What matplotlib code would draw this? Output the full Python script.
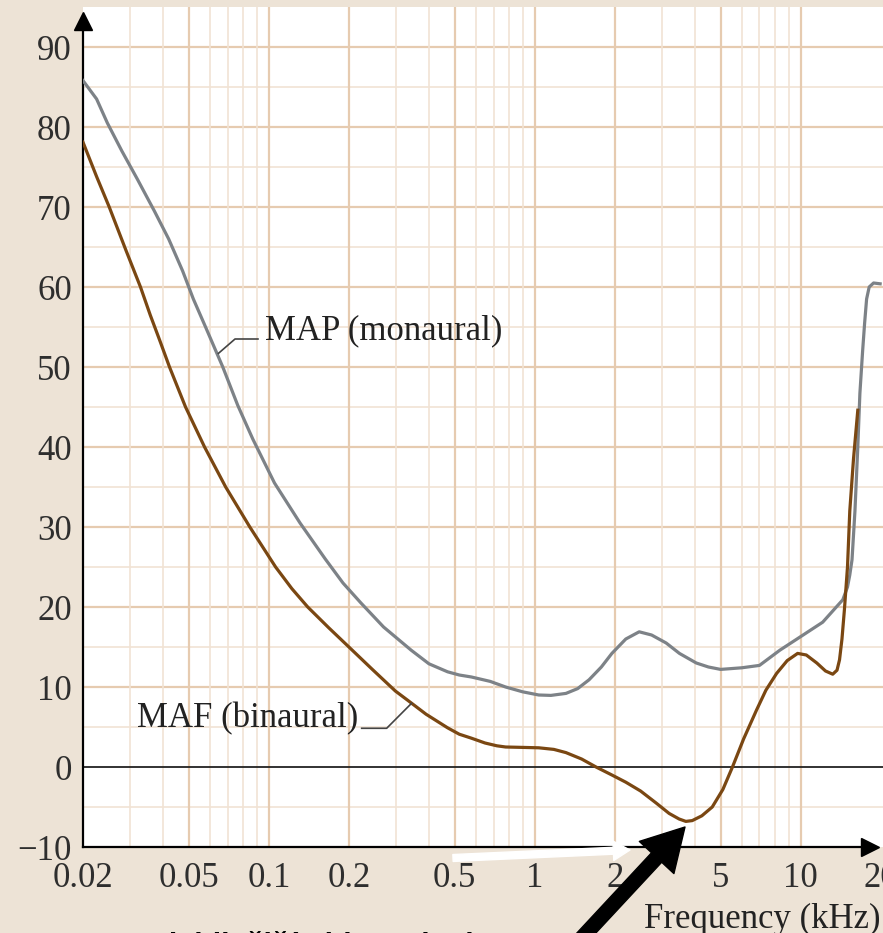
import matplotlib
matplotlib.use("Agg")
import matplotlib.pyplot as plt
from matplotlib.ticker import NullLocator

# values (frequency in kHz, level in dB)
map_freq = [0.02, 0.0225, 0.0247, 0.028, 0.032, 0.0371, 0.042, 0.0474, 0.052, 0.0578,
            0.0671, 0.0764, 0.087, 0.105, 0.131, 0.163, 0.19, 0.222, 0.27, 0.343,
            0.4, 0.47, 0.52, 0.578, 0.68, 0.777, 0.9, 1.035, 1.15, 1.31, 1.45, 1.6,
            1.78, 1.95, 2.2, 2.47, 2.75, 3.12, 3.5, 4.05, 4.5, 5.0, 6.0, 7.0, 8.35,
            10.0, 12.1, 14.4, 15.0, 15.3, 15.6, 16.0, 16.4, 16.7, 17.1, 17.4, 17.7,
            18.1, 18.8, 19.9]
map_level = [85.8, 83.5, 80.5, 77, 73.5, 69.5, 66, 62, 58.5, 55,
             50, 45.2, 41, 35.5, 30.5, 26, 23, 20.5, 17.5, 14.6,
             12.9, 11.9, 11.5, 11.25, 10.7, 10.0, 9.4, 9.0, 8.95, 9.2, 9.8, 10.9,
             12.5, 14.2, 16.0, 16.9, 16.5, 15.5, 14.2, 13.0, 12.5, 12.2, 12.4, 12.7, 14.6,
             16.3, 18.1, 20.9, 22.5, 24, 25.9, 32, 40, 46.7, 52, 55.5, 58.5,
             60, 60.5, 60.4]

maf_freq = [0.02, 0.0225, 0.0251, 0.029, 0.0329, 0.0358, 0.0388, 0.0423, 0.0486, 0.0573,
            0.0688, 0.0848, 0.106, 0.122, 0.140, 0.168, 0.2, 0.245, 0.299, 0.334,
            0.39, 0.47, 0.52, 0.578, 0.65, 0.72, 0.777, 0.9, 1.035, 1.18, 1.31, 1.5,
            1.70, 1.95, 2.20, 2.5, 2.86, 3.2, 3.49, 3.7, 3.91, 4.25, 4.65, 5.1, 5.54,
            6.1, 6.82, 7.4, 8.12, 8.9, 9.74, 10.5, 11.5, 12.4, 13.2, 13.7, 14.0, 14.3,
            14.6, 15.0, 15.3, 15.8, 16.4]
maf_level = [78.1, 73.8, 70, 64.6, 60, 56.5, 53.4, 50, 45, 40,
             35, 30, 25, 22.3, 20, 17.4, 15.0, 12.2, 9.5, 8.3,
             6.6, 4.9, 4.1, 3.6, 3.0, 2.65, 2.5, 2.45, 2.4, 2.2, 1.8, 1.0,
             0, -1.0, -1.9, -3.0, -4.5, -5.8, -6.5, -6.8, -6.7, -6.1, -5.0, -2.8, 0,
             3.5, 7.1, 9.6, 11.7, 13.3, 14.2, 14.0, 13.0, 12.0, 11.6, 12.1, 13.4, 16,
             19.6, 25, 32, 38.5, 44.6]

xtick_vals = [0.02, 0.05, 0.1, 0.2, 0.5, 1, 2, 5, 10, 20]
xtick_labels = ["0.02", "0.05", "0.1", "0.2", "0.5", "1", "2", "5", "10", "20"]
ytick_vals = list(range(-10, 91, 10))
ytick_labels = ["\u221210"] + [str(v) for v in ytick_vals[1:]]

major_v = [0.05, 0.1, 0.2, 0.5, 1, 2, 5, 10]
minor_v = [0.03, 0.04, 0.06, 0.07, 0.08, 0.09, 0.3, 0.4, 0.6, 0.7, 0.8, 0.9,
           3, 4, 6, 7, 8, 9]

bg = "#ede3d6"
grid_major = "#e6cbb0"
grid_minor = "#f1e3d4"
serif = "Liberation Serif"

fig = plt.figure(figsize=(8.83, 9.33), dpi=100, facecolor=bg)
ax = fig.add_axes([83 / 883, 86 / 933, 800 / 883, 840 / 933])
ax.set_facecolor("white")
ax.set_xscale("log")
ax.set_xlim(0.02, 20.4)
ax.set_ylim(-10, 95)

# grid
for y in range(-5, 91, 5):
    if y == 0:
        continue
    major = y % 10 == 0
    ax.axhline(y, color=grid_major if major else grid_minor, lw=1.6 if major else 1.2, zorder=0)
for x in major_v:
    ax.axvline(x, color=grid_major, lw=1.6, zorder=0)
for x in minor_v:
    ax.axvline(x, color=grid_minor, lw=1.2, zorder=0)
ax.axhline(0, color="#222222", lw=1.3, zorder=1)

ax.plot(map_freq, map_level, color="#7d8287", lw=2.3, zorder=3, solid_joinstyle="round")
ax.plot(maf_freq, maf_level, color="#7a4712", lw=2.3, zorder=3, solid_joinstyle="round")

# curve labels with leader lines
ax.plot([0.091, 0.0746, 0.0646], [53.5, 53.5, 51.7], color="#444444", lw=1.2, zorder=4)
ax.text(0.0968, 53.4, "MAP (monaural)", family=serif, fontsize=25, color="#222222",
        ha="left", va="baseline")
ax.plot([0.2234, 0.2774, 0.344], [4.84, 4.84, 7.96], color="#444444", lw=1.2, zorder=4)
ax.text(0.0319, 4.9, "MAF (binaural)", family=serif, fontsize=25, color="#222222",
        ha="left", va="baseline")

# axes
for s in ["top", "right"]:
    ax.spines[s].set_visible(False)
ax.spines["left"].set_bounds(-10, 93)
ax.spines["bottom"].set_bounds(0.02, 18.5)
for s in ["left", "bottom"]:
    ax.spines[s].set_linewidth(1.6)
    ax.spines[s].set_color("black")
ax.plot([0.02], [93.3], marker="^", ms=12.5, color="black", clip_on=False, zorder=5)
ax.plot([18.2], [-10], marker=">", ms=13, color="black", clip_on=False, zorder=5)

ax.set_xticks(xtick_vals)
ax.set_xticklabels(xtick_labels)
ax.xaxis.set_minor_locator(NullLocator())
ax.set_yticks(ytick_vals)
ax.set_yticklabels(ytick_labels)
ax.tick_params(axis="both", length=0, labelsize=25, labelcolor="#2e2e2e")
ax.tick_params(axis="x", pad=11)
ax.tick_params(axis="y", pad=8)
for lab in ax.get_xticklabels() + ax.get_yticklabels():
    lab.set_family(serif)

fig.text(880 / 883, 5 / 933, "Frequency (kHz)", family=serif, fontsize=25,
         color="#222222", ha="right", va="baseline")

# slide overlays
ax.annotate("", xy=(630, 83), xycoords="figure pixels", xytext=(453, 75),
            textcoords="figure pixels", annotation_clip=False,
            arrowprops=dict(facecolor="white", edgecolor="white", width=5,
                            headwidth=14, headlength=12, shrink=0))
ax.annotate("", xy=(685, 106), xycoords="figure pixels", xytext=(578, -9),
            textcoords="figure pixels", annotation_clip=False,
            arrowprops=dict(facecolor="black", edgecolor="black", width=10,
                            headwidth=34, headlength=30, shrink=0))
fig.text(130 / 883, -22 / 933, "Nejcitlivější oblast sluchu", family="Liberation Sans",
         fontsize=22, fontweight="bold", color="black", ha="left", va="baseline")

fig.savefig("out.png", dpi=100, facecolor=bg)
